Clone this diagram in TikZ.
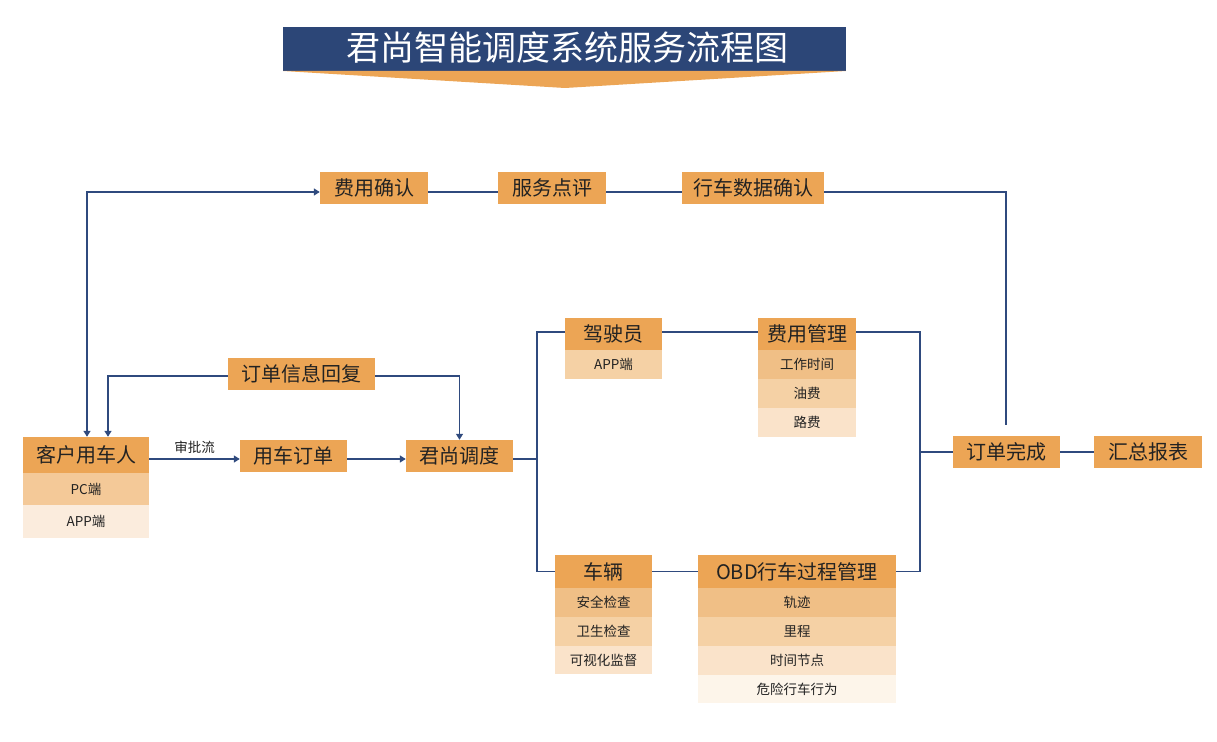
\documentclass[tikz,border=0pt]{standalone}
\usepackage{fontspec}
\setmainfont{Noto Sans CJK SC}
\usetikzlibrary{arrows.meta}
\definecolor{navy}{HTML}{2C4677}
\definecolor{ln}{HTML}{2F4A7E}
\definecolor{hdr}{HTML}{ECA555}
\definecolor{ra}{HTML}{F0BF86}
\definecolor{rb}{HTML}{F5D1A5}
\definecolor{rc}{HTML}{FAE3CA}
\definecolor{rd}{HTML}{FDF5EA}
\definecolor{pc}{HTML}{F4C998}
\definecolor{ap}{HTML}{FBECDD}
\definecolor{txt}{HTML}{222222}
\tikzset{
  hd/.style={fill=hdr, text=txt, font=\fontsize{20}{24}\selectfont, inner sep=0pt, minimum height=32},
  row/.style={text=txt, font=\fontsize{13.5}{16}\selectfont, inner sep=0pt, minimum height=29},
  conn/.style={draw=ln, line width=1.3pt},
  arr/.style={conn, -{Triangle[width=7pt,length=6pt]}},
  arr2/.style={conn, {Triangle[width=7pt,length=6pt]}-{Triangle[width=7pt,length=6pt]}}
}
\begin{document}
\begin{tikzpicture}[x=1pt,y=-1pt]
\useasboundingbox (0,0) rectangle (1217,741);
% title
\fill[navy] (283,27) rectangle (846,71);
\fill[hdr] (283,71) -- (846,71) -- (565,88) -- cycle;
\node[text=white, font=\fontsize{34}{40}\selectfont] (title) at (567,48) {君尚智能调度系统服务流程图};
% top row
\node[hd, minimum width=108] (fy) at (374,188) {费用确认};
\node[hd, minimum width=108] (fw) at (552,188) {服务点评};
\node[hd, minimum width=142] (xc) at (753,188) {行车数据确认};
% customer
\node[hd, minimum width=126, minimum height=36] (kh) at (86,455) {客户用车人};
\node[row, fill=pc, minimum width=126, minimum height=32] (khpc) at (86,489) {PC端};
\node[row, fill=ap, minimum width=126, minimum height=33] (khapp) at (86,521.5) {APP端};
% reply
\node[hd, minimum width=147] (dd) at (301.5,374) {订单信息回复};
\node[hd, minimum width=107] (yc) at (293.5,456) {用车订单};
\node[hd, minimum width=107] (js) at (459.5,456) {君尚调度};
% driver
\node[hd, minimum width=97] (jsy) at (613.5,334) {驾驶员};
\node[row, fill=rb, minimum width=97] (jsyapp) at (613.5,364.5) {APP端};
% fee
\node[hd, minimum width=98] (fg) at (807,334) {费用管理};
\node[row, fill=ra, minimum width=98] (fg1) at (807,364.5) {工作时间};
\node[row, fill=rb, minimum width=98] (fg2) at (807,393.5) {油费};
\node[row, fill=rc, minimum width=98] (fg3) at (807,422.5) {路费};
% vehicle
\node[hd, minimum width=97, minimum height=33] (cl) at (603.5,571.5) {车辆};
\node[row, fill=ra, minimum width=97] (cl1) at (603.5,602.5) {安全检查};
\node[row, fill=rb, minimum width=97] (cl2) at (603.5,631.5) {卫生检查};
\node[row, fill=rc, minimum width=97, minimum height=28] (cl3) at (603.5,660) {可视化监督};
% OBD
\node[hd, minimum width=198, minimum height=33] (obd) at (797,571.5) {OBD行车过程管理};
\node[row, fill=ra, minimum width=198] (obd1) at (797,602.5) {轨迹};
\node[row, fill=rb, minimum width=198] (obd2) at (797,631.5) {里程};
\node[row, fill=rc, minimum width=198] (obd3) at (797,660.5) {时间节点};
\node[row, fill=rd, minimum width=198, minimum height=28] (obd4) at (797,689) {危险行车行为};
% end
\node[hd, minimum width=107] (wc) at (1006.5,452) {订单完成};
\node[hd, minimum width=108] (hz) at (1148,452) {汇总报表};
% bus coordinates
\coordinate (busL) at (537,0);
\coordinate (busR) at (920,0);
\coordinate (topend) at (1006,425);
\coordinate (ycin) at ([yshift=-3pt]yc.west);
% connectors
\draw[arr2] ([xshift=1pt]kh.north) |- ([yshift=-4pt]fy.west);
\draw[conn] ([yshift=-4pt]fy.east) -- ([yshift=-4pt]fw.west);
\draw[conn] ([yshift=-4pt]fw.east) -- ([yshift=-4pt]xc.west);
\draw[conn] ([yshift=-4pt]xc.east) -| (topend);
\draw[arr] ([yshift=-2pt]dd.west) -| ([xshift=22pt]kh.north);
\draw[arr] ([yshift=-2pt]dd.east) -| (js.north);
\draw[arr] (kh.east |- ycin) -- node[above=1pt, text=txt, font=\fontsize{13.5}{16}\selectfont] {审批流} (ycin);
\draw[arr] ([yshift=-3pt]yc.east) -- ([yshift=-3pt]js.west);
\draw[conn] ([yshift=-3pt]js.east) -- ++(24,0);
\draw[conn] ([yshift=2pt]jsy.west) -| (busL |- cl.west) -- (cl.west);
\draw[conn] ([yshift=2pt]jsy.east) -- ([yshift=2pt]fg.west);
\draw[conn] (cl.east) -- (obd.west);
\draw[conn] ([yshift=2pt]fg.east) -| (busR |- obd.east) -- (obd.east);
\draw[conn] (busR |- wc.west) -- (wc.west);
\draw[conn] (wc.east) -- (hz.west);
\end{tikzpicture}
\end{document}
